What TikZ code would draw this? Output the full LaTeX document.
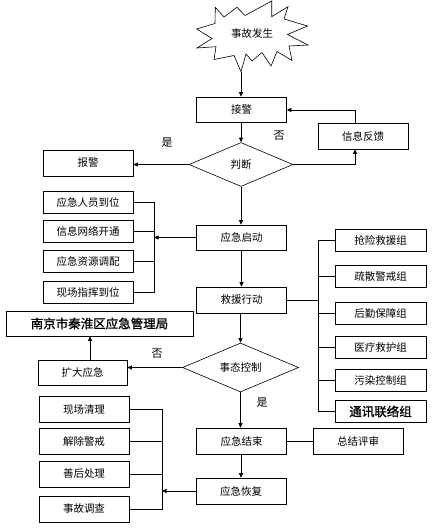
\documentclass[tikz,border=0pt]{standalone}
\usepackage{fontspec}
\newfontfamily\cjk{Noto Sans CJK SC}
\newfontfamily\cjkb{Noto Sans CJK SC}[FakeBold=1.2]
\usetikzlibrary{arrows.meta,shapes.geometric}
\begin{document}
\begin{tikzpicture}[x=1pt,y=-1pt,
  line width=0.6pt,
  every node/.style={font=\cjk\fontsize{10.5}{12}\selectfont},
  box/.style={draw,rectangle,inner sep=0pt,minimum width=90pt,minimum height=25pt},
  sbox/.style={box,minimum height=22pt},
  dia/.style={draw,diamond,inner sep=0pt,aspect=2.4},
  arr/.style={-{Triangle[length=4.5pt,width=4pt]}},
  lbl/.style={font=\cjk\fontsize{11}{12}\selectfont},
  bigb/.style={font=\cjkb\fontsize{12.5}{14}\selectfont}
]
\useasboundingbox (0,0) rectangle (432,528);
% starburst
\draw (215.3,7.3) -- (224,17) -- (237,7.3) -- (245,15.5) -- (271.7,1) -- (271.7,16.7)
  -- (288,6.7) -- (284,19) -- (307.5,26) -- (287.5,34.5) -- (308,45) -- (289,46)
  -- (292,60.5) -- (277,51.5) -- (271,66) -- (262,52.5) -- (252,61) -- (246,54)
  -- (241,71.7) -- (234,55.5) -- (214,59.5) -- (216,46.7) -- (197,48) -- (212,38.5)
  -- (196.7,29) -- (215,23.5) -- cycle;
\node (burst) at (252,34) {事故发生};
\coordinate (burstb) at (241,71.7);

\node[box] (jj) at (241.5,109.5) {接警};
\node[dia,minimum width=104pt,minimum height=44pt] (pd) at (241,164.5) {判断};
\node[box,minimum height=26pt] (bj) at (88,163) {报警};
\node[box,minimum height=26pt] (xx) at (363,136) {信息反馈};

\node[box] (qd) at (241.5,237.5) {应急启动};
\node[box,minimum height=26pt] (jy) at (241.5,300) {救援行动};

\node[sbox] (l1) at (88,202.5) {应急人员到位};
\node[sbox] (l2) at (88,231) {信息网络开通};
\node[sbox] (l3) at (88,261) {应急资源调配};
\node[sbox] (l4) at (88,292) {现场指挥到位};

\node[sbox,minimum width=91pt] (r1) at (380.5,240) {抢险救援组};
\node[sbox,minimum width=91pt] (r2) at (380.5,276.5) {疏散警戒组};
\node[sbox,minimum width=91pt] (r3) at (380.5,313.5) {后勤保障组};
\node[sbox,minimum width=91pt] (r4) at (380.5,347.5) {医疗救护组};
\node[sbox,minimum width=91pt] (r5) at (380.5,380.5) {污染控制组};
\node[sbox,minimum width=91pt,bigb] (r6) at (380.5,411.5) {通讯联络组};

\node[box,minimum width=187pt,bigb] (nj) at (99.5,323.5) {南京市秦淮区应急管理局};
\node[dia,minimum width=116pt,minimum height=49pt] (sk) at (240.5,367.5) {事态控制};
\node[box,minimum width=89pt] (kd) at (82.5,372.5) {扩大应急};

\node[box,minimum height=26pt] (js) at (241.5,441) {应急结束};
\node[box,minimum height=26pt] (zj) at (358,441) {总结评审};
\node[box,minimum height=26pt] (hf) at (241,491) {应急恢复};

\node[box,minimum height=26pt] (b1) at (84,409.5) {现场清理};
\node[box,minimum height=26pt] (b2) at (84,441) {解除警戒};
\node[box,minimum height=26pt] (b3) at (84,474) {善后处理};
\node[box,minimum height=26pt] (b4) at (84,509) {事故调查};

% labels
\node[lbl] (y1) at (167,143) {是};
\node[lbl] (n1) at (279,136) {否};
\node[lbl] (n2) at (157,354) {否};
\node[lbl] (y2) at (262,403) {是};

% connectors
\draw[arr] (burstb) -- (burstb |- jj.north);
\draw[arr] (jj.south -| pd.north) -- (pd.north);
\draw[arr] (pd.west) -- (pd.west -| bj.east);
\coordinate (xb) at (355,0);
\draw[arr] (pd.east) -- (pd.east -| xb) -- (xb |- xx.south);
\coordinate (jjr) at (0,110);
\draw[arr] (xx.north -| xb) -- (xb |- jjr) -- (jjr -| jj.east);
\draw[arr] (pd.south) -- (pd.south |- qd.north);

\coordinate (lbr) at (154,0);
\draw (l1.east) -- (l1.east -| lbr) -- (l4.east -| lbr) -- (l4.east);
\draw (l2.east) -- (l2.east -| lbr);
\draw (l3.east) -- (l3.east -| lbr);
\draw[arr] (qd.west) -- (qd.west -| lbr);

\draw[arr] (qd.south) -- (jy.north);

\coordinate (rbr) at (318,0);
\draw (jy.east) -- (jy.east -| rbr);
\draw (r1.west) -- (r1.west -| rbr) -- (r6.west -| rbr) -- (r6.west);
\draw (r2.west) -- (r2.west -| rbr);
\draw (r3.west) -- (r3.west -| rbr);
\draw (r4.west) -- (r4.west -| rbr);
\draw (r5.west) -- (r5.west -| rbr);

\draw[arr] (jy.south -| sk.north) -- (sk.north);
\draw[arr] (sk.west) -- (sk.west -| kd.east);
\draw[arr] ([xshift=7.5pt]kd.north) -- ([xshift=7.5pt]kd.north |- nj.south);
\draw[arr] (sk.south) -- (sk.south |- js.north);
\draw (js.east) -- (zj.west);
\draw[arr] (js.south -| hf.north) -- (hf.north);

\coordinate (bbr) at (162,0);
\draw (b1.east) -- (b1.east -| bbr) -- (b4.east -| bbr) -- (b4.east);
\draw (b2.east) -- (b2.east -| bbr);
\draw (b3.east) -- (b3.east -| bbr);
\draw[arr] (hf.west) -- (hf.west -| bbr);
\end{tikzpicture}
\end{document}
